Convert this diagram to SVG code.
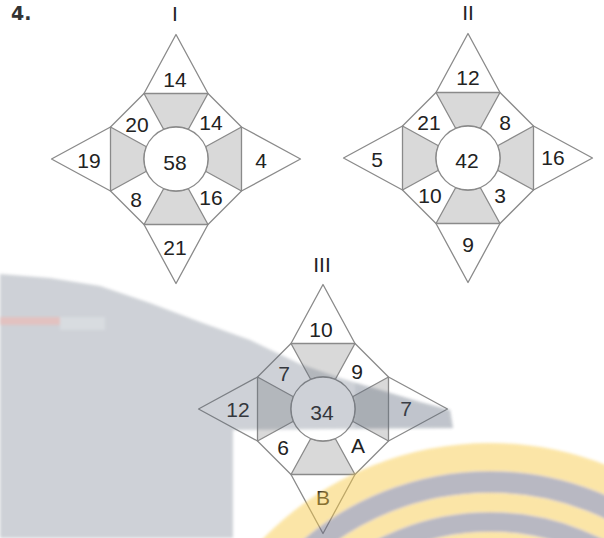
<svg xmlns="http://www.w3.org/2000/svg" width="604" height="538" viewBox="0 0 604 538">
<defs>
<style>
.ln{stroke:#8a8a8a;stroke-width:1.3;stroke-linejoin:round}
.out{fill:#ffffff}
.tz{fill:#d9d9d9}
.ctr{fill:#ffffff}
text{font-family:"Liberation Sans",Arial,sans-serif;font-size:21px;fill:#222;text-anchor:middle}
.rn{font-size:21px}
.head{font-family:"DejaVu Sans",sans-serif;font-weight:bold;font-size:19px;fill:#333;text-anchor:start}
</style>
<filter id="soft" x="-10%" y="-10%" width="120%" height="120%"><feGaussianBlur stdDeviation="1.6"/></filter>
<path id="tzp" d="M-32,-65.5 L32,-65.5 L12.25,-29.56 A32,32 0 0 0 -12.25,-29.56 Z"/>
<g id="star">
<polygon class="ln out" points="0,-124.5 32,-65.5 65.5,-32 124.5,0 65.5,32 32,65.5 0,124.5 -32,65.5 -65.5,32 -124.5,0 -65.5,-32 -32,-65.5"/>
<use href="#tzp" class="ln tz"/>
<use href="#tzp" class="ln tz" transform="rotate(90)"/>
<use href="#tzp" class="ln tz" transform="rotate(180)"/>
<use href="#tzp" class="ln tz" transform="rotate(270)"/>
<circle class="ln ctr" cx="0" cy="0" r="32"/>
</g>
</defs>
<rect width="604" height="538" fill="#ffffff"/>
<text class="head" x="11" y="20">4.</text>

<g id="figure-I">
<use href="#star" x="176" y="159"/>
<text class="rn" x="175" y="21">I</text>
<text x="175" y="87">14</text>
<text x="137" y="132">20</text>
<text x="211" y="130">14</text>
<text x="89" y="168">19</text>
<text x="175" y="170">58</text>
<text x="261" y="168">4</text>
<text x="136" y="207">8</text>
<text x="211" y="205">16</text>
<text x="175" y="255">21</text>
</g>

<g id="figure-II">
<use href="#star" x="468" y="158"/>
<text class="rn" x="468" y="20">II</text>
<text x="468" y="85">12</text>
<text x="429" y="130">21</text>
<text x="505" y="130">8</text>
<text x="377" y="167">5</text>
<text x="467" y="168">42</text>
<text x="553" y="165">16</text>
<text x="430" y="203">10</text>
<text x="500" y="203">3</text>
<text x="468" y="252">9</text>
</g>

<g id="figure-III">
<use href="#star" x="323" y="409"/>
<text class="rn" x="322" y="272">III</text>
<text x="321" y="337">10</text>
<text x="284" y="381">7</text>
<text x="357" y="379">9</text>
<text x="238" y="417">12</text>
<text x="322" y="420">34</text>
<text x="406" y="416">7</text>
<text x="283" y="455">6</text>
<text x="358" y="453">A</text>
<text x="323" y="505">B</text>
</g>

<g id="watermark">
<g opacity="0.3" filter="url(#soft)">
<polygon fill="#5f6b7c" points="0,274 50,278 100,286 150,303 200,322 250,340 300,364 340,378 387,392 420,402 450,410 453,428 233,430 233,538 0,538"/>
</g>
<g opacity="0.12" filter="url(#soft)">
<polygon fill="#646f80" points="355,383 387,392 420,402 450,410 453,428 355,428"/>
</g>
<g filter="url(#soft)">
<rect x="0" y="317" width="60" height="8" fill="#f0b8b0" opacity="0.6"/>
<rect x="60" y="317" width="45" height="13" fill="#eef5f5" opacity="0.3"/>
</g>
<g opacity="0.47" filter="url(#soft)">
<circle cx="490" cy="760" r="303" fill="none" stroke="#f8c945" stroke-width="28"/>
<circle cx="490" cy="760" r="278" fill="none" stroke="#6b6a80" stroke-width="22"/>
<circle cx="490" cy="760" r="257.5" fill="none" stroke="#f8c945" stroke-width="19"/>
<circle cx="490" cy="760" r="238" fill="none" stroke="#6b6a80" stroke-width="20"/>
<circle cx="490" cy="760" r="228" fill="#f8c945"/>
</g>
</g>
</svg>
